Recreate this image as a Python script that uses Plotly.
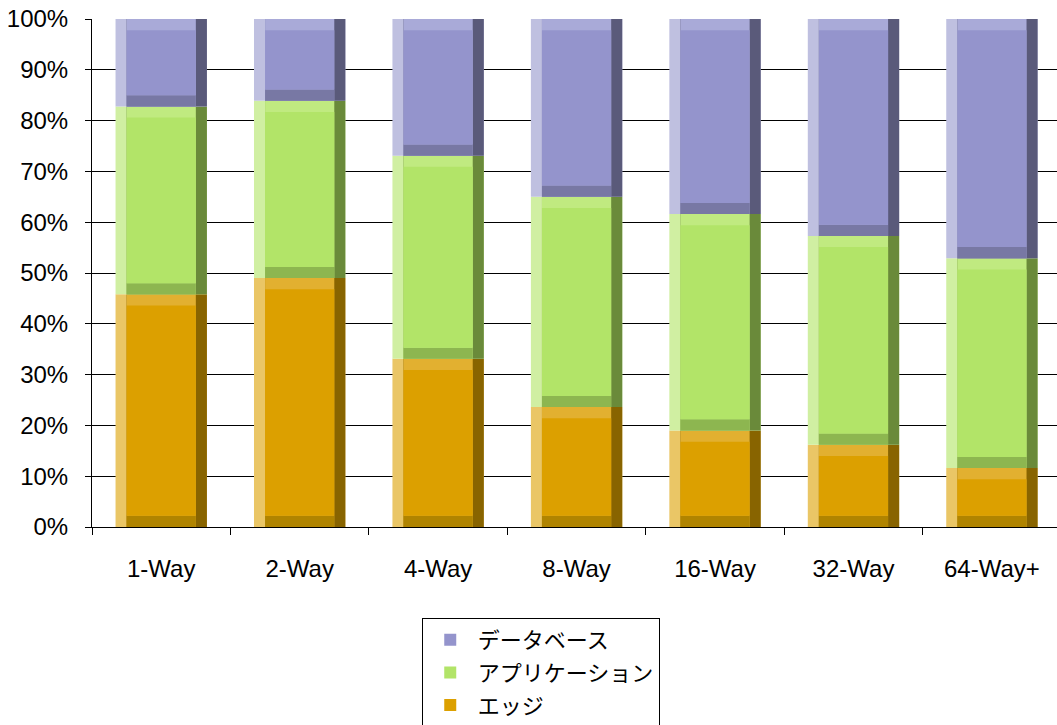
import numpy as np
import plotly.graph_objects as go

categories = ["1-Way", "2-Way", "4-Way", "8-Way", "16-Way", "32-Way", "64-Way+"]
edge = [45.8, 49.0, 33.1, 23.6, 19.0, 16.2, 11.6]
application = [37.0, 34.9, 40.0, 41.4, 42.6, 41.1, 41.3]
database = [17.2, 16.1, 26.9, 35.0, 38.4, 42.7, 47.1]
series_names = ["エッジ", "アプリケーション", "データベース"]
legend_ranks = [3, 2, 1]

# bevel palettes: left, right, top, bottom, center
palettes = [
    dict(left="#EAC666", right="#886400", top="#E2B030", bottom="#B08400", center="#DCA000"),
    dict(left="#D0EFA2", right="#6A8A3A", top="#C0EA80", bottom="#8DB650", center="#B2E468"),
    dict(left="#BFC0E0", right="#5A5A7A", top="#A9AAD8", bottom="#7878A4", center="#9494CC"),
]

W = 0.66   # bar width (category units)
DX = 0.08  # bevel width, horizontal (category units)
DY = 2.2   # bevel height, vertical (%)

fig = go.Figure()
bottom = np.zeros(len(categories))
for name, vals, pal, rank in zip(series_names, [edge, application, database], palettes, legend_ranks):
    v = np.array(vals, dtype=float)
    b = bottom.copy()
    layers = [
        (pal["left"], b, v, -W / 2, W, False),
        (pal["right"], b, v, -W / 2 + DX, W - DX, False),
        (pal["top"], b, v, -W / 2 + DX, W - 2 * DX, False),
        (pal["bottom"], b, np.full_like(v, DY), -W / 2 + DX, W - 2 * DX, False),
        (pal["center"], b + DY, v - 2 * DY, -W / 2 + DX, W - 2 * DX, True),
    ]
    for color, base, h, off, w, main in layers:
        fig.add_trace(go.Bar(
            x=categories, y=h, base=base, offset=off, width=w,
            marker=dict(color=color, line=dict(width=0)),
            name=name, showlegend=main, legendgroup=name, legendrank=rank,
            hoverinfo="skip" if not main else None,
        ))
    bottom = b + v

fig.update_layout(
    barmode="overlay",
    width=1057, height=725,
    margin=dict(l=92, r=0, t=19, b=198, autoexpand=False),
    paper_bgcolor="white", plot_bgcolor="white",
    font=dict(family="Liberation Sans, Arial, Noto Sans CJK JP", size=24, color="black"),
    xaxis=dict(
        type="category", range=[-0.5, 6.47], automargin=False, tickangle=0,
        showline=True, linecolor="black", linewidth=1,
        ticks="outside", tickson="boundaries", ticklen=7, tickcolor="black",
        showgrid=False, ticklabelstandoff=20, tickfont=dict(size=24),
    ),
    yaxis=dict(
        range=[0, 100], dtick=10, ticksuffix="%", automargin=False,
        showgrid=True, gridcolor="black", gridwidth=1,
        showline=True, linecolor="black", linewidth=1,
        ticks="outside", ticklen=6, tickcolor="black",
        zeroline=False, ticklabelstandoff=12, tickfont=dict(size=24),
    ),
    legend=dict(
        xref="container", yref="container",
        x=0.399, y=0.1476, xanchor="left", yanchor="top",
        bgcolor="white", bordercolor="black", borderwidth=1,
        font=dict(size=22, family="Liberation Sans, Arial, Noto Sans CJK JP"),
        traceorder="grouped", tracegroupgap=1, itemwidth=45,
    ),
)

fig.write_html("out.html")
